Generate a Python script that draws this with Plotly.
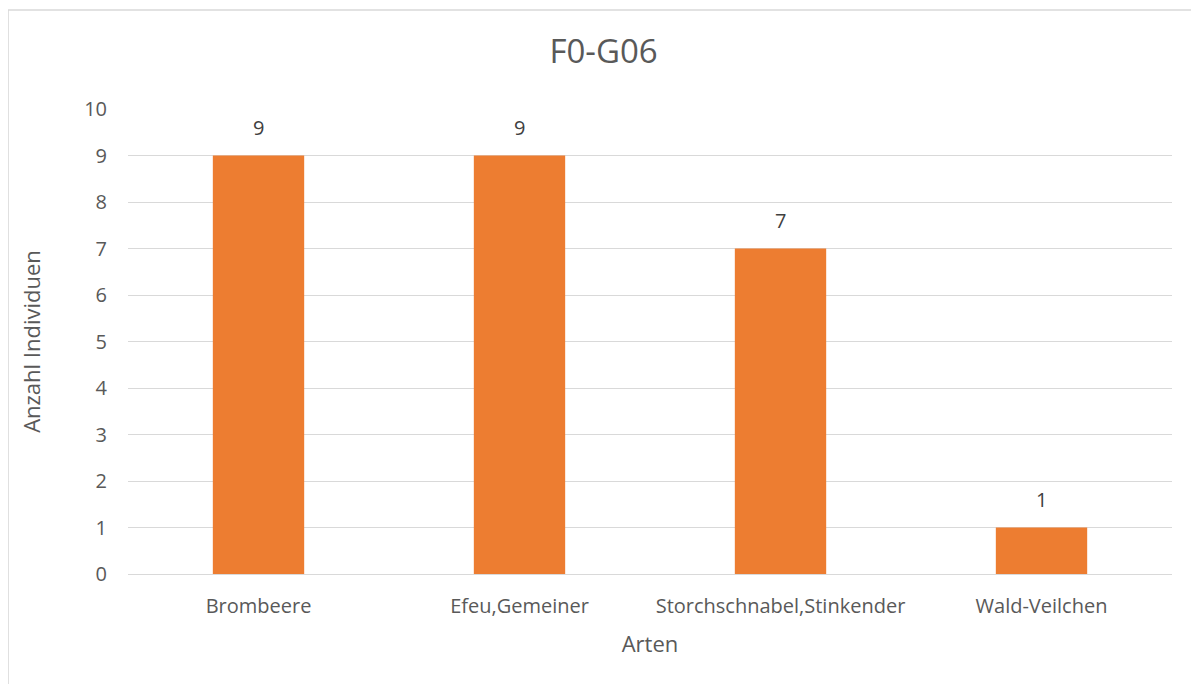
import plotly.graph_objects as go

species = ["Brombeere", "Efeu,Gemeiner", "Storchschnabel,Stinkender", "Wald-Veilchen"]
counts = [9, 9, 7, 1]

ORANGE = "#ED7D31"
GRID = "#D9D9D9"
TEXT = "#595959"

fig = go.Figure(
    go.Bar(
        x=species,
        y=counts,
        marker_color=ORANGE,
        marker_line_width=0,
        hovertemplate="<b>%{x}</b><br>%{y}<extra></extra>",
    )
)

# value labels sit a bit higher above the bars than plotly's "outside" text
for name, n in zip(species, counts):
    fig.add_annotation(x=name, y=n, text=str(n), showarrow=False,
                       yanchor="bottom", yshift=13,
                       font=dict(size=20, color="#404040"))

# page body adds an 8px margin, so the figure is 8px smaller than the window
fig.update_layout(
    width=1191,
    height=676,
    margin=dict(l=120, r=27, t=101, b=110),
    plot_bgcolor="white",
    paper_bgcolor="white",
    font=dict(family="Open Sans, Liberation Sans, sans-serif", size=20, color=TEXT),
    title=dict(text="F0-G06", x=0.5, xanchor="center", y=0.935, yanchor="middle",
               font=dict(size=33, color=TEXT)),
    bargap=0.65,
    showlegend=False,
    # chart frame (right/bottom edges fall outside the picture)
    shapes=[dict(type="rect", xref="paper", yref="paper",
                 x0=-0.1149, x1=1.05, y0=-0.3, y1=1.2129,
                 line=dict(color=GRID, width=1.5), layer="below")],
)

fig.update_yaxes(
    range=[0, 10],
    dtick=1,
    showgrid=True,
    gridcolor=GRID,
    gridwidth=1.3,
    zeroline=True,
    zerolinecolor=GRID,
    zerolinewidth=1.3,
    ticks="",
    ticklabelstandoff=20,
    title=dict(text="Anzahl Individuen", font=dict(size=22, color=TEXT), standoff=37),
)
fig.update_xaxes(
    showgrid=False,
    showline=False,
    ticks="",
    ticklabelstandoff=18,
    title=dict(text="Arten", font=dict(size=22, color=TEXT), standoff=18),
)

fig.write_html("out.html")
